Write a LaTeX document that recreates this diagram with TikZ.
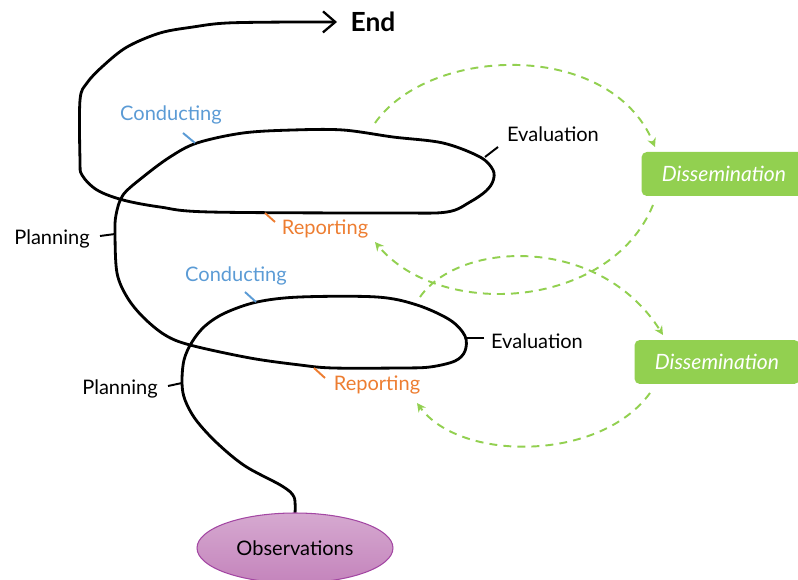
\documentclass[tikz,border=0pt]{standalone}
\usepackage{fontspec}
\setmainfont{Lato}
\usetikzlibrary{arrows.meta,shapes.geometric}

\definecolor{dgreen}{HTML}{92D050}
\definecolor{cblue}{HTML}{5B9BD5}
\definecolor{rorange}{HTML}{ED7D31}
\definecolor{obsfill}{HTML}{C484BC}
\definecolor{obsedge}{HTML}{A347A3}

\tikzset{
    spiral/.style={line width=1.6pt, line cap=round, line join=round},
    lbl/.style={font=\fontsize{11.4}{13}\selectfont, inner sep=0pt},
    tick/.style={line width=1.1pt},
    dissbox/.style={fill=dgreen, rounded corners=3pt, text=white,
        font=\fontsize{12}{14}\selectfont\itshape, minimum width=3.3cm, minimum height=0.88cm},
    feedback/.style={dgreen, line width=1.1pt, dash pattern=on 4.5pt off 3.5pt,
        -{Stealth[length=5pt,width=5pt]}}
}

\begin{document}
\begin{tikzpicture}[x=0.02cm, y=-0.02cm]
    \useasboundingbox (0,0) rectangle (798,580);
    \clip (0,0) rectangle (798,580);

    % the spiral, from the observations up to the end
    \draw[spiral, -{Straight Barb[length=7pt, width=12pt, line width=1.3pt]}] plot[smooth, tension=0.55] coordinates {
        (295,513) (294,497) (282,486) (245,466) (217,443) (196,420) (185,400) (182,383)
        (184,360) (192,342) (205,326) (225,313) (257,302) (300,297) (377,297) (417,305)
        (450,320) (465,336) (465,351) (455,361) (430,367) (400,368) (333,368) (300,365)
        (250,358) (190,345) (165,335) (143,317) (127,297) (117,273) (115,235) (116,215)
        (123,195) (143,177) (170,157) (197,143) (243,133) (293,130) (343,130) (393,137)
        (443,143) (480,157) (493,170) (493,181) (486,191) (470,202) (447,212) (393,213)
        (210,212) (160,207) (123,200) (97,190) (82,175) (80,160) (80,100) (87,83)
        (103,66) (127,47) (160,33) (193,27) (227,23) (293,22) (337,22)};

    % labels
    \node[lbl, font=\fontsize{15}{17}\selectfont\bfseries] (end) at (373,22) {End};
    \node[lbl, text=cblue] (cond1) at (171,115) {Conducting};
    \node[lbl, text=cblue] (cond2) at (236,276) {Conducting};
    \node[lbl, text=rorange] (rep1) at (325,229) {Reporting};
    \node[lbl, text=rorange] (rep2) at (377,385) {Reporting};
    \node[lbl] (eval1) at (553,134) {Evaluation};
    \node[lbl] (eval2) at (537,341) {Evaluation};
    \node[lbl] (plan1) at (52,239) {Planning};
    \node[lbl] (plan2) at (120,389) {Planning};

    % ticks from labels to the spiral
    \coordinate (cond1a) at (183,133); \coordinate (cond1b) at (195,143);
    \coordinate (cond2a) at (245,292); \coordinate (cond2b) at (256,302);
    \coordinate (rep1a) at (275,222);  \coordinate (rep1b) at (265,213);
    \coordinate (rep2a) at (325,378);  \coordinate (rep2b) at (314,368);
    \coordinate (eval1a) at (498,147); \coordinate (eval1b) at (485,157);
    \coordinate (eval2a) at (484,338); \coordinate (eval2b) at (467,338);
    \coordinate (plan1a) at (100,236); \coordinate (plan1b) at (115,234);
    \coordinate (plan2a) at (168,386); \coordinate (plan2b) at (182,383);
    \draw[tick, cblue] (cond1a) -- (cond1b);
    \draw[tick, cblue] (cond2a) -- (cond2b);
    \draw[tick, rorange] (rep1a) -- (rep1b);
    \draw[tick, rorange] (rep2a) -- (rep2b);
    \draw[tick] (eval1a) -- (eval1b);
    \draw[tick] (eval2a) -- (eval2b);
    \draw[tick] (plan1a) -- (plan1b);
    \draw[tick] (plan2a) -- (plan2b);

    % observations
    \node[ellipse, draw=obsedge, line width=0.6pt, top color=obsfill!70!white, bottom color=obsfill,
        minimum width=3.92cm, minimum height=1.4cm, font=\fontsize{11.4}{13}\selectfont] (obs) at (295,548) {Observations};

    % dissemination boxes
    \node[dissbox] (diss1) at (724,174) {Dissemination};
    \node[dissbox] (diss2) at (717,362) {Dissemination};

    % feedback loops
    \coordinate (out1) at (375,123);  \coordinate (in1) at (655,147);
    \coordinate (out2) at (653,205);  \coordinate (in2) at (375,242);
    \coordinate (out3) at (420,297);  \coordinate (in3) at (663,335);
    \coordinate (out4) at (650,393);  \coordinate (in4) at (417,403);
    \draw[feedback] (out1) .. controls (430,45) and (610,40) .. (in1);
    \draw[feedback] (out2) .. controls (610,310) and (440,320) .. (in2);
    \draw[feedback] (out3) .. controls (460,240) and (600,235) .. (in3);
    \draw[feedback] (out4) .. controls (600,462) and (460,462) .. (in4);
\end{tikzpicture}
\end{document}
